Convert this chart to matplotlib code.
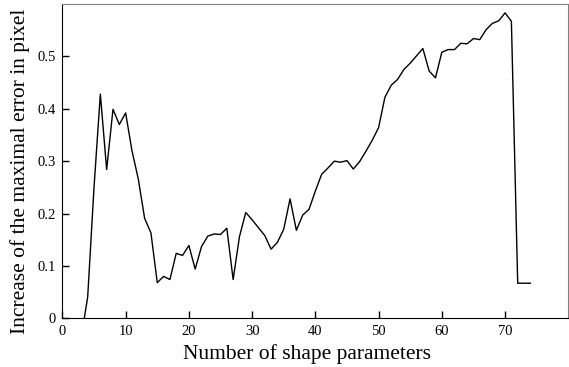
import matplotlib
matplotlib.use("Agg")
import matplotlib.pyplot as plt

params = list(range(3, 75))
increase = [-0.035, 0.041, 0.25, 0.428, 0.284, 0.399, 0.370, 0.392, 0.320, 0.266,
            0.191, 0.163, 0.068, 0.080, 0.074, 0.124, 0.120, 0.139, 0.094, 0.137,
            0.157, 0.161, 0.160, 0.172, 0.074, 0.156, 0.202, 0.188, 0.173, 0.158,
            0.132, 0.145, 0.170, 0.228, 0.168, 0.197, 0.208, 0.243, 0.275, 0.287,
            0.300, 0.298, 0.301, 0.285, 0.299, 0.319, 0.340, 0.364, 0.422, 0.445,
            0.456, 0.475, 0.487, 0.501, 0.515, 0.472, 0.459, 0.508, 0.513, 0.513,
            0.525, 0.524, 0.534, 0.532, 0.551, 0.563, 0.568, 0.583, 0.567, 0.067,
            0.067, 0.067]
xticks = [0, 10, 20, 30, 40, 50, 60, 70]
yticks = [0, 0.1, 0.2, 0.3, 0.4, 0.5]
ytick_labels = ["0", "0.1", "0.2", "0.3", "0.4", "0.5"]

plt.rcParams['font.family'] = ['Liberation Serif', 'DejaVu Serif']
fig = plt.figure(figsize=(5.69, 3.67), dpi=100)
ax = fig.add_axes([62.4/569, 1 - 318.3/367, (568.3-62.4)/569, (318.3-4)/367])
ax.plot(params, increase, color='black', lw=1.0)
ax.set_xlim(0, 80)
ax.set_ylim(0, 0.6)
ax.set_xticks(xticks)
ax.set_yticks(yticks)
ax.set_yticklabels(ytick_labels)
ax.tick_params(direction='in', length=5, width=1, labelsize=10.5, top=False, right=False)
ax.tick_params(axis='x', pad=5)
ax.tick_params(axis='y', pad=5)
for s in ['top', 'right']:
    ax.spines[s].set_color('#808080')
for s in ['bottom', 'left']:
    ax.spines[s].set_color('black')
ax.set_xlabel('Number of shape parameters', fontsize=15.5)
ax.set_ylabel('Increase of the maximal error in pixel', fontsize=15.5)
ax.xaxis.set_label_coords(0.4836, -0.082)
ax.yaxis.set_label_coords(-0.064, 0.467)
fig.savefig('out.png', dpi=100)
